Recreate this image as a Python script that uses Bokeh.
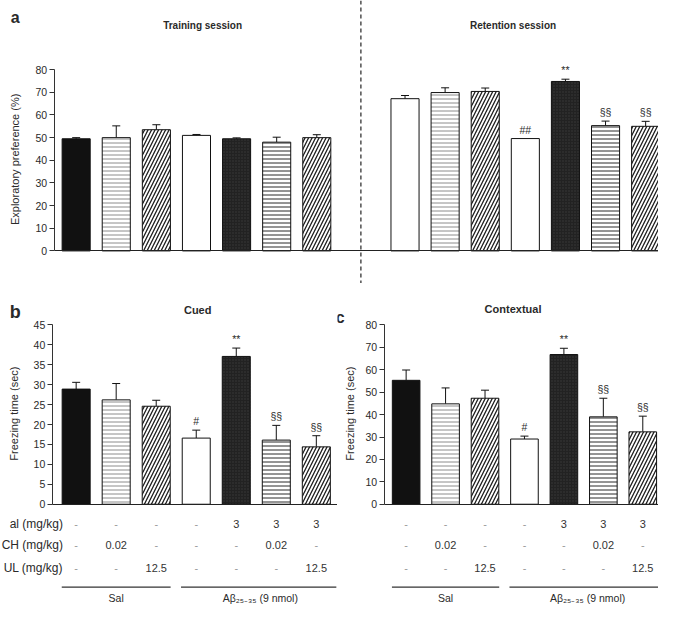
import math
from bokeh.plotting import figure
from bokeh.models import (Range1d, Span, Whisker, TeeHead, ColumnDataSource,
                          FixedTicker, Label, LinearAxis)
from bokeh.layouts import column, row
from bokeh.embed import file_html
from bokeh.resources import INLINE
from bokeh.core.properties import value

# ---------------- data ----------------
groups = ["1", "2", "3", "4", "5", "6", "7"]
sessions = ["Training session", "Retention session"]

train_mean = [49.5, 50.0, 53.5, 51.0, 49.5, 48.0, 50.0]
train_err = [0.5, 5.2, 2.2, 0.4, 0.4, 2.2, 1.3]
train_marks = ["", "", "", "", "", "", ""]

ret_mean = [67.2, 69.9, 70.4, 49.6, 74.8, 55.3, 55.0]
ret_err = [1.4, 2.1, 1.5, 0.0, 1.0, 2.0, 2.2]
ret_marks = ["", "", "", "##", "**", "§§", "§§"]

cued_mean = [28.9, 26.2, 24.6, 16.6, 37.1, 16.1, 14.4]
cued_err = [1.7, 4.1, 1.5, 2.0, 2.1, 3.7, 2.8]
cued_marks = ["", "", "", "#", "**", "§§", "§§"]

ctx_mean = [55.3, 44.8, 47.3, 29.1, 66.8, 39.0, 32.3]
ctx_err = [4.6, 7.1, 3.6, 1.3, 2.8, 8.3, 7.0]
ctx_marks = ["", "", "", "#", "**", "§§", "§§"]

row_labels = ["al (mg/kg)", "CH (mg/kg)", "UL (mg/kg)"]
row1 = ["-", "-", "-", "-", "3", "3", "3"]
row2 = ["-", "0.02", "-", "-", "-", "0.02", "-"]
row3 = ["-", "-", "12.5", "-", "-", "-", "12.5"]
group_names = ["Sal", "Aβ₂₅₋₃₅ (9 nmol)"]
y_titles = ["Exploratory preference (%)", "Freezing time (sec)", "Freezing time (sec)"]

# ---------------- styles ----------------
FONT = "Liberation Sans"
TXT = "#2a2a2a"
fill_train = ["#111111", "white", "white", "white", "#222222", "white", "white"]
fill_ret = ["white", "white", "white", "white", "#222222", "white", "white"]
hatch_pat = [" ", "horizontal_line", "right_diagonal_line", " ", "dot",
             "horizontal_line", "right_diagonal_line"]
hatch_col = ["#111111", "#8c8c8c", "#1e1e1e", "#000000", "#3c3c3c", "#2a2a2a", "#1e1e1e"]
hatch_scl = [12, 4, 7, 12, 3, 4, 7]
hatch_wt = [1, 1, 1.3, 1, 1, 1, 1.3]

W, H = 658, 608
SX, SY = W / 674.0, H / 624.0
HA = 283
HB = H - HA
WB = 337
WC = W - WB
GAP = 1.2          # extra space between the two sessions (in bar slots)
BAR_W = 0.7


class Panel:
    """one figure whose frame fills the whole canvas; the image-pixel layout of the
    reference is mapped onto data ranges so that the library scales place the marks"""

    def __init__(self, w, h, fig_x0, fig_y0, c0_img, sp_img, axis_img, zero_img,
                 top_img, top_val, step, ytitle, ytitle_img):
        self.w, self.h, self.x0, self.y0 = w, h, fig_x0, fig_y0
        c0 = c0_img * SX - fig_x0
        sp = sp_img * SX
        self.c0, self.sp = c0, sp
        xr = Range1d(-c0 / sp, (w - c0) / sp)
        z = zero_img * SY - fig_y0
        t = top_img * SY - fig_y0
        ppu = (z - t) / top_val
        self.ppu = ppu
        yr = Range1d(-(h - z) / ppu, top_val + t / ppu)
        p = figure(width=w, height=h, x_range=xr, y_range=yr, output_backend="svg",
                   toolbar_location=None, x_axis_location=None, y_axis_location=None,
                   min_border_left=0, min_border_right=0, min_border_top=0,
                   min_border_bottom=0, outline_line_color=None,
                   background_fill_color="white", border_fill_color="white")
        p.xgrid.visible = False
        p.ygrid.visible = False
        self.p = p
        ax_loc = self.xd(axis_img)
        yax = LinearAxis(fixed_location=ax_loc, bounds=(0, top_val),
                         ticker=FixedTicker(ticks=list(range(0, top_val + 1, step))),
                         minor_tick_line_color=None, major_tick_in=0, major_tick_out=5,
                         major_label_standoff=2, axis_line_color="#333333",
                         major_tick_line_color="#333333", major_label_text_font=FONT,
                         major_label_text_font_size="10.5px",
                         major_label_text_color=TXT)
        p.add_layout(yax, "left")
        xax = LinearAxis(fixed_location=0, bounds=(ax_loc, xr.end),
                         ticker=FixedTicker(ticks=[]), minor_tick_line_color=None,
                         major_tick_line_color=None, major_label_text_font_size="0px",
                         axis_line_color="#222222", axis_line_width=1.2)
        p.add_layout(xax, "below")
        self.label(ytitle_img[0], ytitle_img[1], ytitle, "11px", angle=math.pi / 2)

    def xd(self, img_x):
        return (img_x * SX - self.x0 - self.c0) / self.sp

    def label(self, img_x, img_y, text, size, bold=False, align="center", angle=0.0):
        x = img_x * SX - self.x0
        y = self.h - (img_y * SY - self.y0)
        self.p.add_layout(Label(x=x, y=y, x_units="screen", y_units="screen", text=text,
                                text_align=align, text_baseline="middle",
                                text_font=FONT, text_font_size=size, text_color=TXT,
                                angle=angle,
                                text_font_style="bold" if bold else "normal"))

    def bars(self, xs, means, errs, marks, fills):
        p = self.p
        src = ColumnDataSource(dict(x=xs, top=means, fill=fills, hp=hatch_pat,
                                    hc=hatch_col, hs=hatch_scl, hw=hatch_wt))
        p.vbar(x="x", top="top", width=BAR_W, source=src, fill_color="fill",
               line_color="#111111", line_width=1, hatch_pattern="hp",
               hatch_color="hc", hatch_scale="hs", hatch_weight="hw")
        keep = [i for i, e in enumerate(errs) if e > 0]
        wsrc = ColumnDataSource(dict(base=[xs[i] for i in keep],
                                     lower=[means[i] for i in keep],
                                     upper=[means[i] + errs[i] for i in keep]))
        p.add_layout(Whisker(base="base", lower="lower", upper="upper", source=wsrc,
                             dimension="height", line_color="#111111", line_width=1,
                             lower_head=None,
                             upper_head=TeeHead(size=8, line_color="#111111",
                                                line_width=1)))
        tops = [m + e for m, e in zip(means, errs)]
        p.text(x=xs, y=tops, text=marks, text_align="center", text_baseline="bottom",
               y_offset=-3, text_font=value(FONT), text_font_size="10.5px",
               text_color="#2a2a2a")

    def table(self, xs):
        p = self.p
        offs = [20 * SY, 42 * SY, 65 * SY]
        for vals, off in zip([row1, row2, row3], offs):
            cols = ["#333333" if v != "-" else "#9a9a9a" for v in vals]
            p.text(x=xs, y=[0] * len(xs), text=vals, y_offset=off,
                   text_align="center", text_baseline="middle", text_font=value(FONT),
                   text_font_size="11px", text_color=cols)
        yline = -85 * SY / self.ppu
        p.segment(x0=[xs[0] - 0.36, xs[3] - 0.38], x1=[xs[2] + 0.36, xs[6] + 0.5],
                  y0=[yline, yline], y1=[yline, yline],
                  line_color="#333333", line_width=1.3)
        p.text(x=[xs[1], (xs[3] + xs[6]) / 2 + 0.1], y=[0, 0], text=group_names,
               y_offset=96 * SY, text_align="center", text_baseline="middle",
               text_font=value(FONT), text_font_size="10.5px", text_color=TXT)


# ---------------- panel a ----------------
pos_train = [float(i) for i in range(len(groups))]
pos_ret = [len(groups) - 1 + 1 + GAP + i for i in range(len(groups))]

A = Panel(W, HA, 0, 0, 77.5, 41.08, 55, 257, 71, 80, 10, y_titles[0], (15, 163))
A.bars(pos_train, train_mean, train_err, train_marks, fill_train)
A.bars(pos_ret, ret_mean, ret_err, ret_marks, fill_ret)
A.p.add_layout(Span(location=(pos_train[-1] + pos_ret[0]) / 2, dimension="height",
                    line_color="#222222", line_width=1.2, line_dash="4 3"))
A.label(15, 17, "a", "16px", bold=True)
A.label(207, 26, sessions[0], "10px", bold=True)
A.label(525, 26, sessions[1], "10px", bold=True)

# ---------------- panel b ----------------
pos = [float(i) for i in range(len(groups))]
B = Panel(WB, HB, 0, HA, 77.5, 41.0, 53, 517, 333, 45, 5, y_titles[1], (14, 424))
B.bars(pos, cued_mean, cued_err, cued_marks, fill_train)
B.table(pos)
B.label(15, 320, "b", "18px", bold=True)
B.label(202, 318, "Cued", "11px", bold=True)
for lab, iy in zip(row_labels, [537, 559, 582]):
    B.label(64, iy, lab, "12px", align="right")

# ---------------- panel c ----------------
C = Panel(WC, HB, WB, HA, 415.5, 40.4, 393, 517, 333, 80, 10, y_titles[2], (358, 424))
C.bars(pos, ctx_mean, ctx_err, ctx_marks, fill_train)
C.table(pos)
C.label(348, 325, "c", "16px", bold=True)
C.label(525, 317, "Contextual", "11px", bold=True)

layout = column(A.p, row(B.p, C.p, spacing=0), spacing=0)
open("out.html", "w").write(file_html(layout, INLINE))
